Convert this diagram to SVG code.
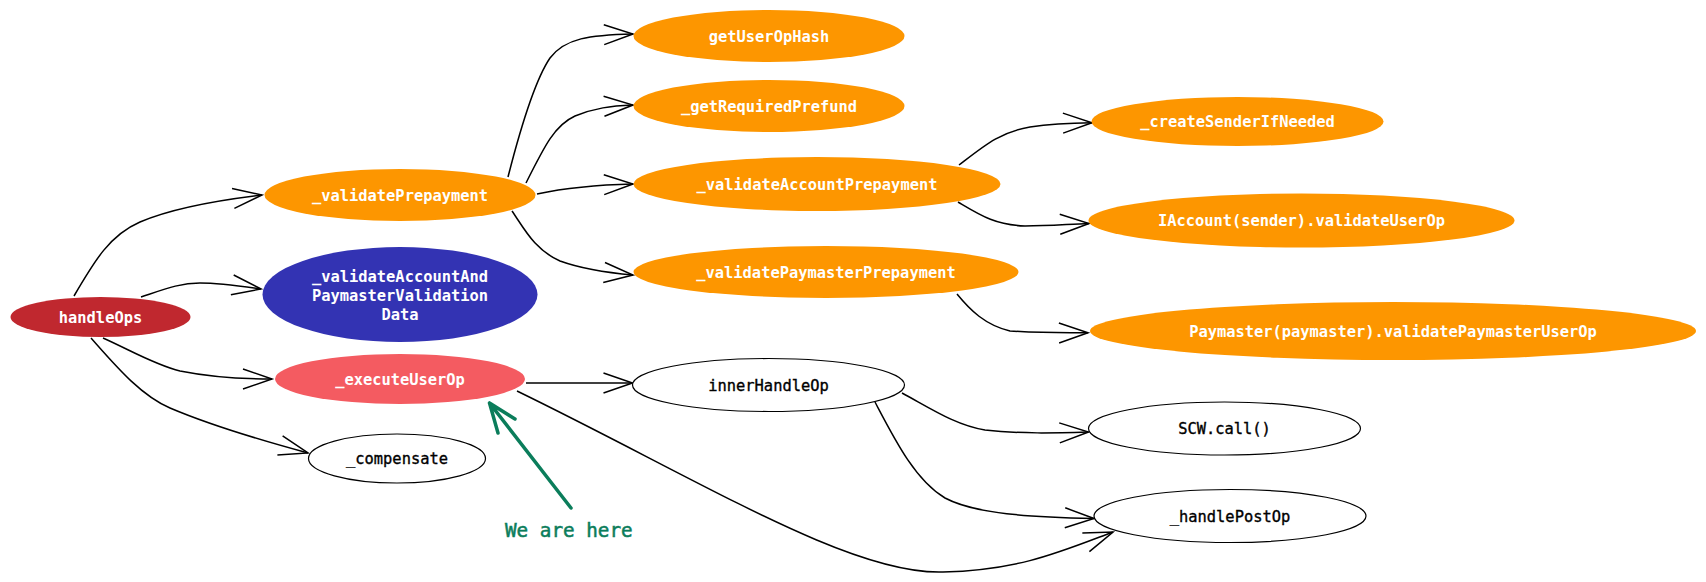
<svg xmlns="http://www.w3.org/2000/svg" width="1706" height="582" viewBox="0 0 1706 582">
<style>
  .lbl { font-family: "DejaVu Sans Mono", "Liberation Mono", monospace; font-size: 15.4px; text-anchor: middle; }
  .w { fill: #ffffff; font-weight: bold; }
  .k { fill: #000000; stroke: #000000; stroke-width: 0.35; }
  .orange { fill: #fd9600; }
  .plain { fill: #ffffff; stroke: #000000; stroke-width: 1.2; }
  .edge { fill: none; stroke: #000000; stroke-width: 1.5; marker-end: url(#arr); }
  .note { font-family: "DejaVu Sans Mono", "Liberation Mono", monospace; font-size: 19.3px; fill: #0b7d5b; stroke: #0b7d5b; stroke-width: 0.5; }
</style>
<defs>
  <marker id="arr" markerUnits="userSpaceOnUse" markerWidth="40" markerHeight="30" refX="0" refY="0" orient="auto" overflow="visible">
    <path d="M-29,-10 L0,0 L-29,10" fill="none" stroke="#000000" stroke-width="1.5"/>
  </marker>
</defs>
<rect width="1706" height="582" fill="#ffffff"/>

<g id="connectors">
  <path class="edge" d="M74,296 C95,260 110,235 140,222 C175,207 220,200 262,195"/>
  <path class="edge" d="M141,297 C165,289 180,283 200,283 C220,283 240,286 261,289"/>
  <path class="edge" d="M103,338 C130,350 155,365 180,371 C210,377 240,379 272,379"/>
  <path class="edge" d="M91,338 C115,365 140,395 170,408 C210,425 260,440 308,453"/>
  <path class="edge" d="M508,177 C520,130 535,80 550,58 C565,38 590,35 633,34"/>
  <path class="edge" d="M526,183 C545,145 555,125 575,116 C595,108 610,106 633,105"/>
  <path class="edge" d="M537,194 C565,188 590,185 633,184"/>
  <path class="edge" d="M512,211 C525,230 535,250 560,261 C585,270 610,273 633,275"/>
  <path class="edge" d="M959,165 C985,145 1000,132 1030,127 C1050,124 1070,123 1092,122.7"/>
  <path class="edge" d="M958,202 C980,215 995,225 1025,226 C1050,226 1070,224 1089,223.5"/>
  <path class="edge" d="M957,294 C970,310 985,325 1010,331 C1040,333 1065,333 1088,332.7"/>
  <path class="edge" d="M526,383 L632.5,383"/>
  <path class="edge" d="M517,391 C700,480 850,575 943,572 C1020,570 1060,552 1113,532"/>
  <path class="edge" d="M902,393 C930,408 955,425 985,430 C1020,434 1055,433 1088.5,432"/>
  <path class="edge" d="M875,402 C895,440 915,480 945,498 C975,514 1030,517 1094,518.5"/>
</g>

<g id="handleOps">
  <ellipse cx="100.5" cy="317" rx="90" ry="20" fill="#c0282f"/>
  <text class="lbl w" x="100.5" y="322.5">handleOps</text>
</g>
<g id="validatePrepayment">
  <ellipse class="orange" cx="400" cy="195" rx="135.5" ry="26"/>
  <text class="lbl w" x="400" y="200.5">_validatePrepayment</text>
</g>
<g id="validateAccountAndPaymasterValidationData">
  <ellipse cx="400" cy="294.5" rx="137.5" ry="47.5" fill="#3333b3"/>
  <text class="lbl w" x="400" y="282">_validateAccountAnd</text>
  <text class="lbl w" x="400" y="301">PaymasterValidation</text>
  <text class="lbl w" x="400" y="320">Data</text>
</g>
<g id="executeUserOp">
  <ellipse cx="400" cy="379" rx="125" ry="25" fill="#f45b61"/>
  <text class="lbl w" x="400" y="384.5">_executeUserOp</text>
</g>
<g id="compensate">
  <ellipse class="plain" cx="397" cy="458.5" rx="88.5" ry="24.5"/>
  <text class="lbl k" x="397" y="464">_compensate</text>
</g>
<g id="getUserOpHash">
  <ellipse class="orange" cx="769" cy="36" rx="135.5" ry="26"/>
  <text class="lbl w" x="769" y="41.5">getUserOpHash</text>
</g>
<g id="getRequiredPrefund">
  <ellipse class="orange" cx="769" cy="106" rx="135.5" ry="26"/>
  <text class="lbl w" x="769" y="111.5">_getRequiredPrefund</text>
</g>
<g id="validateAccountPrepayment">
  <ellipse class="orange" cx="817" cy="184" rx="183.5" ry="27"/>
  <text class="lbl w" x="817" y="189.5">_validateAccountPrepayment</text>
</g>
<g id="validatePaymasterPrepayment">
  <ellipse class="orange" cx="826" cy="272" rx="192.5" ry="26"/>
  <text class="lbl w" x="826" y="277.5">_validatePaymasterPrepayment</text>
</g>
<g id="createSenderIfNeeded">
  <ellipse class="orange" cx="1237.5" cy="121.5" rx="146" ry="24.5"/>
  <text class="lbl w" x="1237.5" y="127">_createSenderIfNeeded</text>
</g>
<g id="validateUserOp">
  <ellipse class="orange" cx="1301.5" cy="220.5" rx="213" ry="27"/>
  <text class="lbl w" x="1301.5" y="226">IAccount(sender).validateUserOp</text>
</g>
<g id="validatePaymasterUserOp">
  <ellipse class="orange" cx="1393" cy="331" rx="303" ry="29"/>
  <text class="lbl w" x="1393" y="336.5">Paymaster(paymaster).validatePaymasterUserOp</text>
</g>
<g id="innerHandleOp">
  <ellipse class="plain" cx="768.5" cy="385" rx="136" ry="26.5"/>
  <text class="lbl k" x="768.5" y="390.5">innerHandleOp</text>
</g>
<g id="scwCall">
  <ellipse class="plain" cx="1224.5" cy="428.5" rx="136" ry="26.5"/>
  <text class="lbl k" x="1224.5" y="434">SCW.call()</text>
</g>
<g id="handlePostOp">
  <ellipse class="plain" cx="1230" cy="516" rx="136" ry="26.5"/>
  <text class="lbl k" x="1230" y="521.5">_handlePostOp</text>
</g>

<g id="we-are-here">
  <path d="M571,508 L489.5,403 M515,419 L489.5,403 L498,433" fill="none" stroke="#0b7d5b" stroke-width="3.5" stroke-linecap="round" stroke-linejoin="round"/>
  <text class="note" x="505" y="537">We are here</text>
</g>
</svg>
